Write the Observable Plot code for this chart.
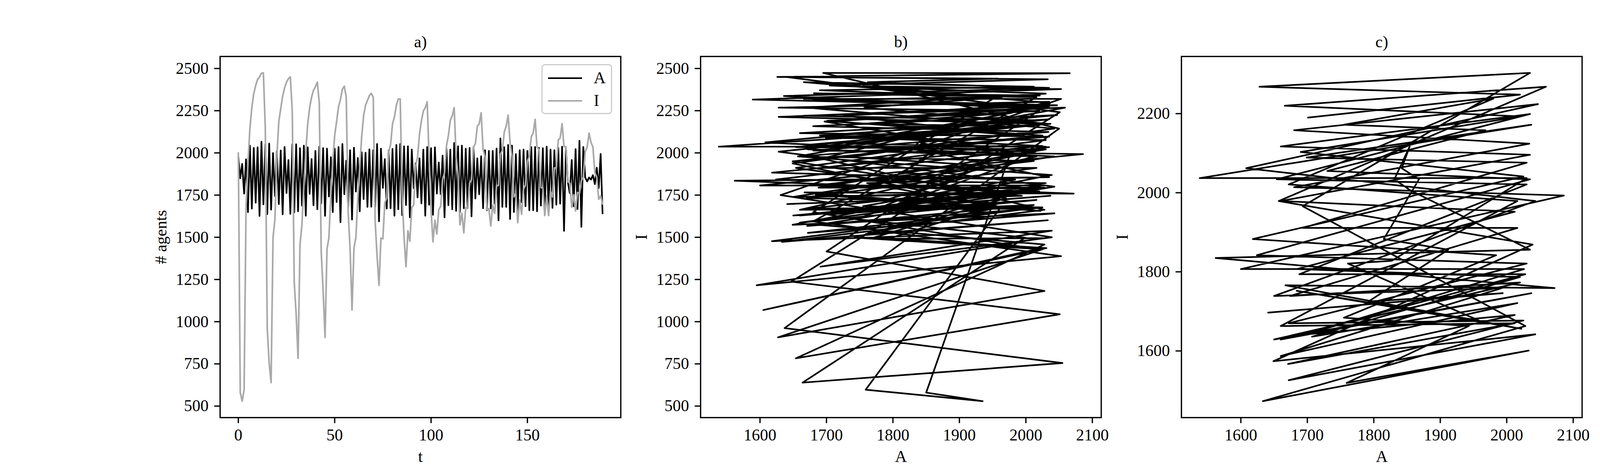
<!DOCTYPE html>
<html>
<head>
<meta charset="utf-8">
<script src="https://cdn.jsdelivr.net/npm/d3@7"></script>
<script src="https://cdn.jsdelivr.net/npm/@observablehq/plot@0.6"></script>
<style>
  html, body { margin: 0; padding: 0; background: white; }
  #fig { position: relative; width: 4500px; height: 1200px; background: white; font-family: "Liberation Serif", "Times New Roman", serif; overflow: hidden; }
  #fig svg, #fig svg text { font-family: "Liberation Serif", "Times New Roman", serif !important; }
  .panel { position: absolute; top: 0; max-width: none !important; }
  .legend { position: absolute; box-sizing: border-box; border: 3.3px solid #cccccc; border-radius: 9px; background: rgba(255,255,255,0.8); }
  .lg-line { position: absolute; height: 4.2px; }
  .lg-text { position: absolute; font-size: 42px; line-height: 42px; color: black; font-family: "Liberation Serif", "Times New Roman", serif; }
</style>
</head>
<body>
<div id="fig"></div>
<script>
// Series A (active agents) per time step t = 0..189
const seriesA = [
1977,1850,1935,1759,1962,1649,2043,1670,2030,1705,
2033,1626,2066,1695,2050,1637,2055,1664,1999,1745,
2010,1697,2014,1636,2035,1762,1958,1639,2051,1647,
2051,1654,2028,1688,2043,1628,2033,1757,1964,1690,
2012,1666,2037,1700,2028,1627,2025,1742,1975,1649,
2025,1709,2035,1589,2053,1755,1954,1680,2016,1605,
2031,1771,1970,1654,2004,1726,2001,1680,2021,1681,
2016,1680,2053,1595,2025,1793,1963,1670,2014,1672,
2024,1628,2047,1666,2053,1631,2039,1691,2039,1618,
2020,1790,1939,1736,1968,1701,2020,1628,2035,1693,
2028,1633,2033,1759,1943,1755,1984,1618,2025,1690,
2020,1666,2059,1657,2039,1649,2043,1672,2025,1672,
2030,1624,2035,1730,1968,1755,1980,1672,2016,1660,
2012,1671,2012,1699,2026,1600,2086,1680,2034,1680,
2047,1608,2043,1650,1993,1660,2016,1707,2020,1684,
2012,1660,2035,1660,2035,1654,2030,1688,2028,1660,
2037,1650,2020,1674,2016,1693,2030,1699,2037,1538,
2030,1827,1761,1958,1684,2022,1667,2072,1562,2035,
1854,1831,1854,1842,1868,1815,1912,1792,1994,1641];

// Series I (inactive agents) per time step
const seriesI = [
2000,580,529,597,1677,1938,2144,2268,2351,2399,
2436,2450,2472,2474,2144,962,755,639,1498,1608,
1979,2186,2261,2337,2385,2419,2440,2450,2241,1237,
1044,783,1457,1574,1800,2007,2172,2268,2330,2371,
2392,2419,2296,1416,1182,907,1429,1498,1750,1950,
2103,2186,2275,2316,2378,2395,2330,1649,1429,1069,
1436,1498,1732,1911,2096,2220,2282,2310,2340,2353,
2330,1594,1388,1216,1495,1491,1704,1732,2007,2048,
2172,2213,2282,2320,2320,1750,1500,1326,1539,1477,
1677,1691,1924,1975,2110,2190,2248,2268,2303,1966,
1663,1473,1601,1519,1663,1684,1842,1883,2041,2103,
2193,2220,2268,1979,1869,1574,1642,1526,1677,1670,
1821,1842,2034,2055,2158,2172,2238,2021,1979,1663,
1670,1567,1691,1642,1807,1807,1993,2014,2124,2158,
2224,2062,1979,1739,1759,1587,1721,1636,1787,1807,
1952,1979,2096,2117,2199,2034,2021,1794,1794,1629,
1746,1629,1773,1739,1911,1911,2076,2089,2172,2037,
2037,1828,1821,1677,1752,1656,1766,1759,1835,1856,
2007,2034,2117,2062,2034,1883,1856,1725,1746,1697];

// Panel c shows the second half of the run
const cStart = 95;

const ticksT = [0, 50, 100, 150];
const ticksAgents = [500, 750, 1000, 1250, 1500, 1750, 2000, 2250, 2500];
const ticksA = [1600, 1700, 1800, 1900, 2000, 2100];
const ticksIc = [1600, 1800, 2000, 2200];
const titles = ["a)", "b)", "c)"];

const rows = seriesA.map((a, i) => ({t: i, A: a, I: seriesI[i]}));
const rowsC = rows.filter(d => d.t >= cStart);

function pad(ext) { const r = ext[1] - ext[0]; return [ext[0] - 0.05 * r, ext[1] + 0.05 * r]; }

const axW = 1025.7, mL = 200, mR = 70, mT = 144, mB = 132, H = 1200;
const font = {fontFamily: "'Liberation Serif', 'Times New Roman', serif", fontSize: "42px", background: "white", color: "black", overflow: "visible", maxWidth: "none"};
const fmt = d => `${d}`;

function decor(title, xl, yl, xt, yt) {
  return [
    Plot.frame({stroke: "black", strokeWidth: 3.3}),
    Plot.axisX({ticks: xt, tickFormat: fmt, tickSize: 14.6, tickPadding: 14, strokeWidth: 3.3, label: null, fontSize: 42}),
    Plot.axisY({ticks: yt, tickFormat: fmt, tickSize: 14.6, tickPadding: 15, strokeWidth: 3.3, label: null, fontSize: 42}),
    Plot.text([title], {text: d => d, frameAnchor: "top", dy: -37, lineAnchor: "middle", fontSize: 42}),
    Plot.text([xl], {text: d => d, frameAnchor: "bottom", dy: 100, lineAnchor: "middle", fontSize: 42}),
    Plot.text([yl], {text: d => d, frameAnchor: "left", dx: -151, rotate: -90, lineAnchor: "middle", textAnchor: "middle", fontSize: 42})
  ];
}

const yDomAll = pad(d3.extent(seriesI));
const xDomA = pad(d3.extent(seriesA));

const pa = Plot.plot({
  width: mL + axW + mR, height: H, marginLeft: mL, marginRight: mR, marginTop: mT, marginBottom: mB,
  style: font,
  x: {domain: pad(d3.extent(rows, d => d.t))},
  y: {domain: yDomAll},
  marks: [
    Plot.line(rows, {x: "t", y: "A", stroke: "black", strokeWidth: 4.2}),
    Plot.line(rows, {x: "t", y: "I", stroke: "#a9a9a9", strokeWidth: 4.2}),
    ...decor(titles[0], "t", "# agents", ticksT, ticksAgents)
  ]
});

const pb = Plot.plot({
  width: mL + axW + mR, height: H, marginLeft: mL, marginRight: mR, marginTop: mT, marginBottom: mB,
  style: font,
  x: {domain: xDomA},
  y: {domain: yDomAll},
  marks: [
    Plot.line(rows, {x: "A", y: "I", stroke: "black", strokeWidth: 4.2}),
    ...decor(titles[1], "A", "I", ticksA, ticksAgents)
  ]
});

const pc = Plot.plot({
  width: mL + axW + mR, height: H, marginLeft: mL, marginRight: mR, marginTop: mT, marginBottom: mB,
  style: font,
  x: {domain: pad(d3.extent(rowsC, d => d.A))},
  y: {domain: pad(d3.extent(rowsC, d => d.I))},
  marks: [
    Plot.line(rowsC, {x: "A", y: "I", stroke: "black", strokeWidth: 4.2}),
    ...decor(titles[2], "A", "I", ticksA, ticksIc)
  ]
});

const fig = document.getElementById("fig");
const lefts = [562.5, 1793.4, 3024.3];
[pa, pb, pc].forEach((p, i) => {
  p.classList.add("panel");
  p.style.position = "absolute";
  p.style.left = (lefts[i] - mL) + "px";
  p.style.top = "0px";
  p.style.background = "transparent";
  fig.appendChild(p);
});

// legend for panel a
const lg = document.createElement("div");
lg.className = "legend";
Object.assign(lg.style, {left: "1386px", top: "164px", width: "181px", height: "128px"});
fig.appendChild(lg);
const legendItems = [{label: "A", color: "black", y: 200}, {label: "I", color: "#a9a9a9", y: 258}];
legendItems.forEach(it => {
  const ln = document.createElement("div");
  ln.className = "lg-line";
  Object.assign(ln.style, {left: "1403px", top: (it.y - 2) + "px", width: "87px", background: it.color});
  fig.appendChild(ln);
  const tx = document.createElement("div");
  tx.className = "lg-text";
  tx.textContent = it.label;
  Object.assign(tx.style, {left: "1520px", top: (it.y - 22) + "px"});
  fig.appendChild(tx);
});
</script>
</body>
</html>
